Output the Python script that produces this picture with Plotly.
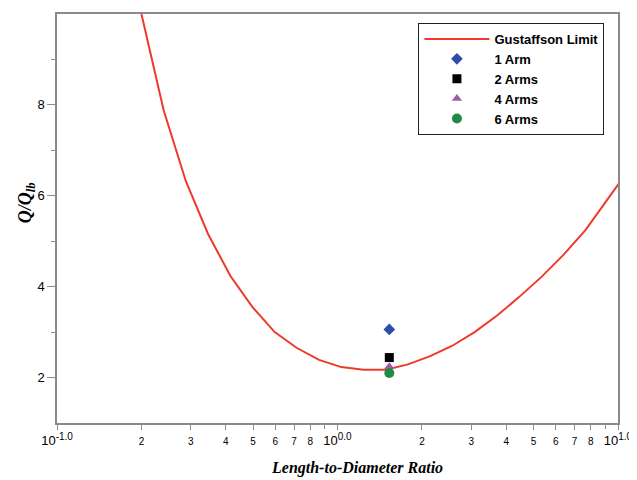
import plotly.graph_objects as go

# Gustaffson limit curve (L/D ratio vs Q/Q_lb)
ld_curve = [0.2, 0.24, 0.288, 0.3456, 0.4147, 0.4977, 0.5972, 0.7166, 0.86, 1.032,
            1.238, 1.486, 1.783, 2.14, 2.568, 3.081, 3.698, 4.437, 5.325, 6.39,
            7.668, 9.201, 11.04]
q_curve = [10.0, 7.88, 6.32, 5.16, 4.24, 3.55, 3.0, 2.65, 2.39, 2.23,
           2.17, 2.17, 2.29, 2.47, 2.70, 3.0, 3.36, 3.77, 4.21, 4.70,
           5.25, 5.93, 6.61]

# Test points
series_names = ["1 Arm", "2 Arms", "4 Arms", "6 Arms"]
series_ld = [1.53, 1.53, 1.53, 1.53]
series_q = [3.06, 2.44, 2.24, 2.10]
series_colors = ["#2E4DA7", "#000000", "#A05AA8", "#1E8A45"]
series_symbols = ["diamond", "square", "triangle-up", "circle"]
series_sizes = [9, 9, 9, 10]

# Axis ticks
x_tickvals = [0.1, 0.2, 0.3, 0.4, 0.5, 0.6, 0.7, 0.8,
              1, 2, 3, 4, 5, 6, 7, 8, 10]
x_ticklabels = ["10<sup>-1.0</sup>", "2", "3", "4", "5", "6", "7", "8",
                "10<sup>0.0</sup>", "2", "3", "4", "5", "6", "7", "8",
                "10<sup>1.0</sup>"]
x_unlabeled = [0.9, 9]
y_tickvals = [2, 4, 6, 8]
y_minor = [3, 5, 7, 9]

SANS = "Liberation Sans, Arial, sans-serif"
SERIF = "Liberation Serif, Times New Roman, serif"

def fmt_x(t):
    if t.startswith("10"):
        return t.replace("<sup>", "<sup><span style='font-size:10px'>").replace("</sup>", "</span></sup>")
    return "<span style='font-size:10px'>" + t + "</span>"

fig = go.Figure()
fig.add_trace(go.Scatter(x=ld_curve, y=q_curve, mode="lines", name="Gustaffson Limit",
                         line=dict(color="#EE3A2C", width=2)))
for n, xv, yv, c, s, sz in zip(series_names, series_ld, series_q, series_colors,
                              series_symbols, series_sizes):
    fig.add_trace(go.Scatter(x=[xv], y=[yv], mode="markers", name=n,
                             marker=dict(color=c, symbol=s, size=sz)))

# page body has an 8px margin: work in figure coordinates (window - 8)
W, H = 629, 472
L, R, T, B = 49, 15, 4, 57
PW, PH = W - L - R, H - T - B
def px(xw):
    return (xw - 8 - L) / PW
def py(yw):
    return (H - B - (yw - 8)) / PH

fig.update_layout(
    width=W, height=H,
    margin=dict(l=L, r=R, t=T, b=B),
    paper_bgcolor="white", plot_bgcolor="white",
    font=dict(family=SANS, color="black", size=13),
    showlegend=True,
    legend=dict(x=px(421), y=py(21),
                xanchor="left", yanchor="top",
                bordercolor="#222222", borderwidth=1, bgcolor="white",
                font=dict(family=SANS, size=13, color="black", weight="bold"),
                itemwidth=65, tracegroupgap=0),
    xaxis=dict(type="log", range=[-1, 1], showgrid=False, zeroline=False,
               showline=True, linecolor="#8a8a8a", linewidth=1.5, mirror=True,
               ticks="outside", ticklen=5, tickcolor="#8a8a8a", tickwidth=1,
               tickmode="array", tickvals=x_tickvals,
               ticktext=[fmt_x(t) for t in x_ticklabels],
               tickfont=dict(family=SANS, size=13, color="black"),
               minor=dict(tickmode="array", tickvals=x_unlabeled, ticks="outside",
                          ticklen=4, tickcolor="#8a8a8a", showgrid=False)),
    yaxis=dict(range=[1, 10], showgrid=False, zeroline=False,
               showline=True, linecolor="#8a8a8a", linewidth=1.5, mirror=True,
               ticks="outside", ticklen=8, tickcolor="#8a8a8a", tickwidth=1,
               tickmode="array", tickvals=y_tickvals,
               tickfont=dict(family=SANS, size=13, color="black"),
               minor=dict(tickmode="array", tickvals=y_minor, ticks="outside",
                          ticklen=4, tickcolor="#8a8a8a", showgrid=False)),
)

fig.add_annotation(text="<b><i>Length-to-Diameter Ratio</i></b>",
                   xref="paper", yref="paper",
                   x=px(359.5), y=py(468),
                   xanchor="center", yanchor="middle", showarrow=False,
                   font=dict(family=SERIF, size=16, color="black"))
fig.add_annotation(text="<b><i>Q/Q<sub>lb</sub></i></b>",
                   xref="paper", yref="paper", textangle=-90,
                   x=px(26), y=py(202),
                   xanchor="center", yanchor="middle", showarrow=False,
                   font=dict(family=SERIF, size=18, color="black"))

fig.write_html("out.html")
